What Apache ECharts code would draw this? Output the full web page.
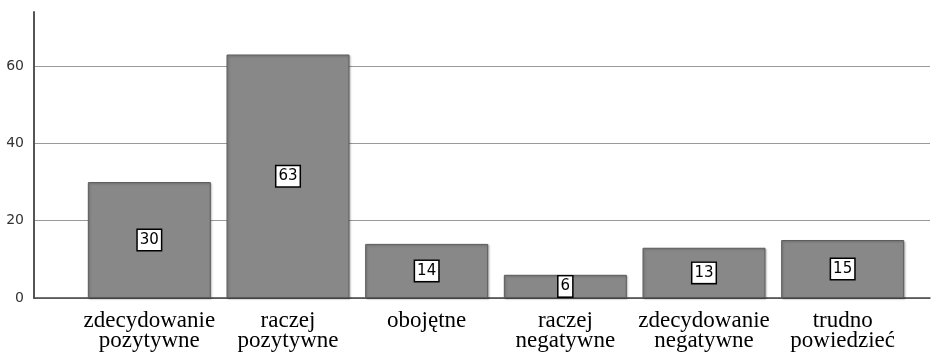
<!DOCTYPE html>
<html>
<head>
<meta charset="utf-8">
<script src="https://cdn.jsdelivr.net/npm/echarts@6/dist/echarts.min.js"></script>
<style>
  html, body { margin: 0; padding: 0; background: #fff; }
  #chart { width: 950px; height: 352px; }
</style>
</head>
<body>
<div id="chart"></div>
<script>
const categories = ['zdecydowanie\npozytywne', 'raczej\npozytywne', 'obojętne', 'raczej\nnegatywne', 'zdecydowanie\nnegatywne', 'trudno\npowiedzieć']
const counts = [30, 63, 14, 6, 13, 15]
const yMax = 74
const yStep = 20

const chart = echarts.init(document.getElementById('chart'))

const option = {
  animation: false,
  grid: [
    // frame: y axis, gridlines, baseline
    { left: 34, right: 20, top: 12, bottom: 54 },
    // bars sit inside a narrower band
    { left: 80, right: 38, top: 12, bottom: 54 }
  ],
  xAxis: [
    {
      gridIndex: 0,
      type: 'value',
      min: 0,
      max: 1,
      axisLine: { show: true, lineStyle: { color: '#444', width: 1.5 } },
      axisTick: { show: false },
      axisLabel: { show: false },
      splitLine: { show: false }
    },
    {
      gridIndex: 1,
      type: 'category',
      data: categories,
      axisLine: { show: false },
      axisTick: { show: false },
      axisLabel: { show: false }
    }
  ],
  yAxis: [
    {
      gridIndex: 0,
      type: 'value',
      min: 0,
      max: yMax,
      interval: yStep,
      axisLine: { show: true, lineStyle: { color: '#555', width: 2 } },
      axisTick: { show: false },
      axisLabel: {
        margin: 10,
        showMaxLabel: false,
        color: '#333',
        fontFamily: 'DejaVu Sans',
        fontSize: 14
      },
      splitLine: { show: true, showMaxLine: false, lineStyle: { color: '#999', width: 1 } }
    },
    {
      gridIndex: 1,
      type: 'value',
      min: 0,
      max: yMax,
      show: false,
      splitLine: { show: false }
    }
  ],
  series: [
    {
      type: 'bar',
      xAxisIndex: 1,
      yAxisIndex: 1,
      data: counts,
      barWidth: 123,
      itemStyle: {
        color: '#888888',
        borderColor: '#5c5c5c',
        borderWidth: 1,
        shadowColor: 'rgba(0,0,0,0.25)',
        shadowBlur: 2,
        shadowOffsetX: 1,
        shadowOffsetY: 1
      },
      label: {
        show: true,
        position: 'inside',
        color: '#000',
        fontFamily: 'DejaVu Sans',
        fontSize: 15,
        backgroundColor: '#fff',
        borderColor: '#000',
        borderWidth: 1.5,
        padding: [3, 2, 2, 2]
      }
    }
  ]
}

function draw() {
  chart.clear()
  chart.setOption(option)
  // category labels placed from the axis scale, one text per line
  const baseY = chart.convertToPixel({ yAxisIndex: 1 }, 0)
  const labelTexts = []
  categories.forEach(cat => {
    const x = chart.convertToPixel({ xAxisIndex: 1 }, cat)
    cat.split('\n').forEach((line, i) => {
      labelTexts.push({
        type: 'text',
        x: x,
        y: baseY + 11 + i * 20,
        style: {
          text: line,
          fontFamily: 'Liberation Serif',
          fontSize: 23,
          fill: '#000',
          align: 'center',
          verticalAlign: 'top'
        }
      })
    })
  })
  chart.setOption({ graphic: labelTexts })
}

draw()
// redraw once the fonts have been picked up, the first pass can fall back to sans
if (document.fonts && document.fonts.ready) {
  document.fonts.load('23px "Liberation Serif"').then(draw, draw)
  document.fonts.ready.then(draw)
}
setTimeout(draw, 150)
setTimeout(draw, 600)
</script>
</body>
</html>
